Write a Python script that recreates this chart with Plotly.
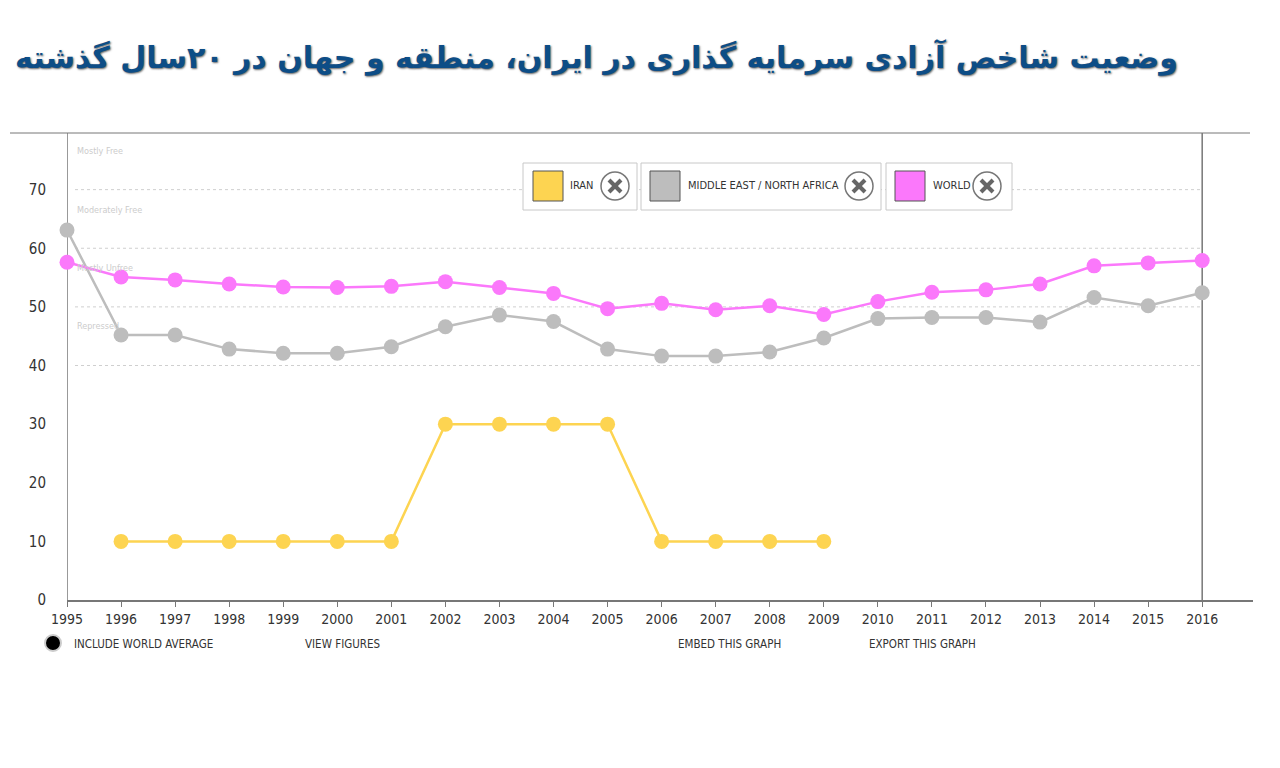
import plotly.graph_objects as go

years = list(range(1995, 2017))
iran = [None, 10, 10, 10, 10, 10, 10, 30, 30, 30, 30, 10, 10, 10, 10,
        None, None, None, None, None, None, None]
mena = [63.1, 45.2, 45.2, 42.8, 42.1, 42.1, 43.2, 46.6, 48.6, 47.5, 42.8,
        41.6, 41.6, 42.3, 44.7, 48.0, 48.2, 48.2, 47.4, 51.6, 50.2, 52.4]
world = [57.6, 55.1, 54.6, 53.9, 53.4, 53.3, 53.5, 54.3, 53.3, 52.3, 49.7,
         50.6, 49.5, 50.2, 48.7, 50.9, 52.5, 52.9, 53.9, 57.0, 57.5, 57.9]
series_names = ["IRAN", "MIDDLE EAST / NORTH AFRICA", "WORLD"]
series_colors = ["#fdd451", "#bdbdbd", "#fb78fb"]
ytick_vals = [0, 10, 20, 30, 40, 50, 60, 70]
grid_vals = [40, 50, 60, 70]
zone_labels = ["Mostly Free", "Moderately Free", "Mostly Unfree", "Repressed"]
zone_y = [76.6, 66.6, 56.7, 46.8]
footer_labels = ["INCLUDE WORLD AVERAGE", "VIEW FIGURES", "EMBED THIS GRAPH", "EXPORT THIS GRAPH"]
title = "وضعیت شاخص آزادی سرمایه گذاری در ایران، منطقه و جهان در ۲۰سال گذشته"

# page body has an 8px margin; all pixel numbers below are screenshot pixels
OFF = 8
W, H = 1272, 760
L, T = 67 - OFF, 131 - OFF
R = W - (1253 - OFF)
B = H - (600 - OFF)
PW, PH = W - L - R, H - T - B


def px(x):
    return (x - OFF - L) / PW


def py(y):
    return (H - B - (y - OFF)) / PH


NARROW = "Liberation Sans Narrow, DejaVu Sans Condensed, sans-serif"

fig = go.Figure()
for name, vals, col in zip(series_names, [iran, mena, world], series_colors):
    fig.add_trace(go.Scatter(
        x=years, y=vals, name=name, mode="lines+markers",
        line=dict(color=col, width=2.5),
        marker=dict(color=col, size=15),
        cliponaxis=False, connectgaps=False, showlegend=False,
    ))

shapes = []
annotations = []

# top rule
shapes.append(dict(type="line", xref="paper", yref="paper",
                   x0=px(10), x1=px(1250), y0=py(133), y1=py(133),
                   line=dict(color="#777", width=1)))
# vertical bounds
for xv in [years[0], years[-1]]:
    shapes.append(dict(type="line", xref="x", yref="paper", x0=xv, x1=xv,
                       y0=0, y1=py(133), line=dict(color="#777", width=1.5),
                       layer="below"))
# dotted gridlines
for g in grid_vals:
    shapes.append(dict(type="line", xref="paper", yref="y",
                       x0=px(75), x1=px(1200), y0=g, y1=g,
                       line=dict(color="#cfcfcf", width=1, dash="dot"),
                       layer="below"))
# zone labels
for lab, yv in zip(zone_labels, zone_y):
    annotations.append(dict(text=lab, xref="paper", yref="y", x=px(75), y=yv,
                            xanchor="left", yanchor="middle", showarrow=False,
                            font=dict(family=NARROW, size=9, color="#cccccc")))

# legend boxes
boxes = [(523, 637, 533, 568, 615), (641, 881, 650, 686, 859), (886, 1012, 895, 931, 987)]
for (bx0, bx1, sq, tx, cx), name, col in zip(boxes, series_names, series_colors):
    shapes.append(dict(type="rect", xref="paper", yref="paper",
                       x0=px(bx0), x1=px(bx1), y0=py(163), y1=py(210),
                       fillcolor="white", line=dict(color="#c8c8c8", width=1)))
    shapes.append(dict(type="rect", xref="paper", yref="paper",
                       x0=px(sq), x1=px(sq + 30), y0=py(171), y1=py(201),
                       fillcolor=col, line=dict(color="#555", width=1)))
    annotations.append(dict(text=name, xref="paper", yref="paper", x=px(tx), y=py(186),
                            xanchor="left", yanchor="middle", showarrow=False,
                            font=dict(family=NARROW, size=11, color="#333")))
    shapes.append(dict(type="circle", xref="paper", yref="paper",
                       x0=px(cx - 14), x1=px(cx + 14), y0=py(172), y1=py(200),
                       fillcolor="white", line=dict(color="#777", width=1.5)))
    for dx in (1, -1):
        shapes.append(dict(type="line", xref="paper", yref="paper",
                           x0=px(cx - 6 * dx), x1=px(cx + 6 * dx), y0=py(180), y1=py(192),
                           line=dict(color="#666", width=4)))

# footer controls
shapes.append(dict(type="circle", xref="paper", yref="paper",
                   x0=px(45), x1=px(61), y0=py(635), y1=py(651),
                   fillcolor="black", line=dict(color="#cccccc", width=2)))
for lab, xp in zip(footer_labels, [72, 303, 676, 867]):
    annotations.append(dict(text=lab, xref="paper", yref="paper", x=px(xp), y=py(644),
                            xanchor="left", yanchor="middle", showarrow=False,
                            font=dict(family=NARROW, size=11.5, color="#333")))

# title
annotations.append(dict(text="<b>" + title + "</b>", xref="paper", yref="paper",
                        x=px(1180), y=py(58), xanchor="right", yanchor="middle",
                        showarrow=False,
                        font=dict(family="DejaVu Sans", size=30, color="#0d4d86",
                                  shadow="1px 1px 2px #666")))

fig.update_layout(
    width=W, height=H,
    margin=dict(l=L, r=R, t=T, b=B),
    paper_bgcolor="white", plot_bgcolor="white",
    shapes=shapes, annotations=annotations,
    xaxis=dict(range=[1995, 2016.94], tickmode="array", tickvals=years,
               ticktext=[str(y) for y in years], showgrid=False, zeroline=False,
               showline=True, linecolor="#777", linewidth=1.5,
               ticks="outside", ticklen=5, tickcolor="#777",
               tickfont=dict(family=NARROW, size=14, color="#333")),
    yaxis=dict(range=[0, 80], tickmode="array", tickvals=ytick_vals,
               showgrid=False, zeroline=False, showline=False, ticks="",
               ticklabelstandoff=20,
               tickfont=dict(family=NARROW, size=15, color="#333")),
)

fig.write_html("out.html")
